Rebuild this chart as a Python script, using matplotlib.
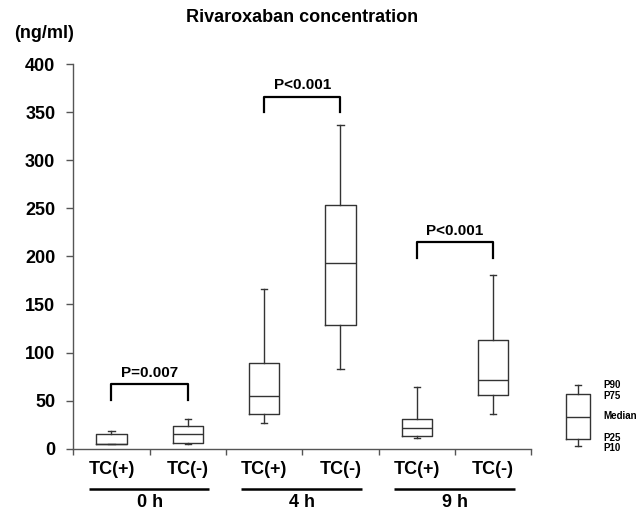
import matplotlib
matplotlib.use("Agg")
import matplotlib.pyplot as plt

plt.rcParams['font.family'] = ['Liberation Sans', 'DejaVu Sans']
plt.rcParams['font.weight'] = 'bold'

# ---- data ----
categories = ['TC(+)', 'TC(-)', 'TC(+)', 'TC(-)', 'TC(+)', 'TC(-)']
groups = ['0 h', '4 h', '9 h']
p10 = [5, 5, 27, 83, 11, 36]
p25 = [5, 5.4, 35.6, 128.3, 13.3, 55.4]
median = [5, 14.8, 54.7, 193, 21.7, 71.4]
p75 = [15.4, 23, 88.7, 254, 31, 112.7]
p90 = [18, 31, 166, 337, 64, 181]
p_texts = ['P=0.007', 'P<0.001', 'P<0.001']
bracket_level = [66.8, 366.5, 214.8]
yticks = [0, 50, 100, 150, 200, 250, 300, 350, 400]
legend_stats = dict(whislo=2.3, q1=10.2, med=33.1, q3=56.4, whishi=66.1)
legend_labels = ['P90', 'P75', 'Median', 'P25', 'P10']
legend_label_y = [66.1, 55.0, 34.2, 10.5, 0.5]

fig = plt.figure(figsize=(6.42, 5.11), dpi=100)
ax = fig.add_axes([0.1142, 0.1223, 0.7134, 0.7515])

positions = [i + 0.5 for i in range(len(categories))]
stats = []
for i in range(len(categories)):
    stats.append(dict(whislo=p10[i], q1=p25[i], med=median[i], q3=p75[i], whishi=p90[i]))

line_col = '#333333'
props = dict(color=line_col, linewidth=1.0)
ax.bxp(stats, positions=positions, widths=0.4, showfliers=False,
       boxprops=props, whiskerprops=props, capprops=props, medianprops=props,
       capwidths=0.08)

# legend box outside the axes
leg_x = 6.61
lb = ax.bxp([legend_stats], positions=[leg_x], widths=0.305, showfliers=False,
            boxprops=props, whiskerprops=props, capprops=props, medianprops=props,
            capwidths=0.08, manage_ticks=False)
for k, arts in lb.items():
    for a in arts:
        a.set_clip_on(False)
for lab, v in zip(legend_labels, legend_label_y):
    ax.text(6.95, v, lab, fontsize=7, fontweight='bold', ha='left', va='center',
            clip_on=False)

ax.set_xlim(0, 6)
ax.set_ylim(0, 400)
ax.set_yticks(yticks)
ax.set_yticklabels([str(t) for t in yticks], fontsize=13, fontweight='bold')
ax.set_xticks(range(7))
ax.set_xticklabels([])
ax.set_xticks(positions, minor=True)
ax.set_xticklabels(categories, minor=True, fontsize=13, fontweight='bold')
ax.tick_params(axis='x', which='minor', length=0, pad=9)
ax.tick_params(axis='x', which='major', length=4, color='#555555', width=1)
ax.tick_params(axis='y', length=5, color='#555555', width=1, pad=8)

for s in ['top', 'right']:
    ax.spines[s].set_visible(False)
for s in ['left', 'bottom']:
    ax.spines[s].set_color('#555555')
    ax.spines[s].set_linewidth(1.0)

# brackets with p-values
for g in range(3):
    x1, x2 = positions[2 * g], positions[2 * g + 1]
    y = bracket_level[g]
    ax.plot([x1, x1, x2, x2], [y - 16, y, y, y - 16], color='black', lw=1.6,
            clip_on=False)
    ax.text((x1 + x2) / 2, y + 12, p_texts[g], ha='center', va='center',
            fontsize=11, fontweight='bold')

# group underlines and labels
for g, lab in enumerate(groups):
    x1, x2 = positions[2 * g] - 0.3, positions[2 * g + 1] + 0.28
    ax.plot([x1, x2], [-42.5, -42.5], color='black', lw=1.8, clip_on=False,
            solid_capstyle='butt')
    ax.text(2 * g + 1, -56.5, lab, ha='center', va='center', fontsize=13,
            fontweight='bold', clip_on=False)

fig.text(302 / 642, 1 - 18 / 511, 'Rivaroxaban concentration', ha='center',
         va='center', fontsize=13, fontweight='bold')
fig.text(44 / 642, 1 - 33 / 511, '(ng/ml)', ha='center', va='center',
         fontsize=13, fontweight='bold')

fig.savefig('out.png', dpi=100, facecolor='white')
